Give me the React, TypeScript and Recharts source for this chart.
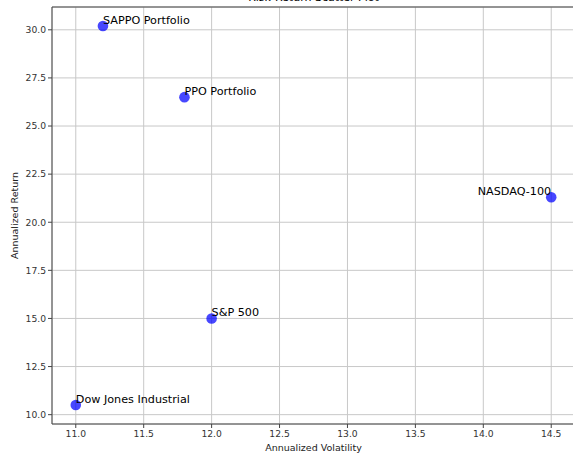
import { ScatterChart, Scatter, XAxis, YAxis, CartesianGrid, Label, ReferenceLine } from "recharts";

const names = ["SAPPO Portfolio", "PPO Portfolio", "NASDAQ-100", "S&P 500", "Dow Jones Industrial"];
const volatility = [11.2, 11.8, 14.5, 12.0, 11.0];
const returns = [30.2, 26.5, 21.3, 15.0, 10.5];
const xTicks = [11.0, 11.5, 12.0, 12.5, 13.0, 13.5, 14.0, 14.5];
const yTicks = [10.0, 12.5, 15.0, 17.5, 20.0, 22.5, 25.0, 27.5, 30.0];

const data = names.map((name, i) => ({ name, x: volatility[i], y: returns[i] }));

const FONT = "DejaVu Sans, sans-serif";
const Y_MAX = 31.185;

const Dot = (props: any) => {
  const { cx, cy, payload } = props;
  const right = payload.name === "NASDAQ-100";
  return (
    <g>
      <circle cx={cx} cy={cy} r={5.3} fill="#0000ff" fillOpacity={0.72} />
      <text
        x={cx}
        y={cy - 2}
        textAnchor={right ? "end" : "start"}
        fontSize={11.2}
        fontFamily={FONT}
        fill="#000"
      >
        {payload.name}
      </text>
    </g>
  );
};

const App = () => {
  return (
    <div style={{ position: "absolute", top: 0, left: 0, width: 573, height: 457, background: "#fff", overflow: "hidden" }}>
      <ScatterChart width={575} height={457} margin={{ top: 7, right: 0, bottom: 0, left: 0 }}>
        <CartesianGrid stroke="#c8c8c8" strokeWidth={1} horizontal vertical />
        <XAxis
          type="number"
          dataKey="x"
          domain={[10.825, 14.675]}
          ticks={xTicks}
          tickFormatter={(v: number) => v.toFixed(1)}
          height={33}
          stroke="#444"
          tickLine={{ stroke: "#444" }}
          tickSize={4}
          tick={{ fontSize: 9.2, fill: "#333", fontFamily: FONT }}
          allowDataOverflow
        >
          <Label
            content={({ viewBox }: any) => (
              <text
                x={viewBox.x + viewBox.width / 2}
                y={451}
                textAnchor="middle"
                fontSize={9.5}
                fontFamily={FONT}
                fill="#222"
              >
                Annualized Volatility
              </text>
            )}
          />
          <Label
            content={({ viewBox }: any) => (
              <text
                x={viewBox.x + viewBox.width / 2}
                y={1}
                textAnchor="middle"
                fontSize={11}
                fontFamily={FONT}
                fill="#000"
              >
                Risk-Return Scatter Plot
              </text>
            )}
          />
        </XAxis>
        <YAxis
          type="number"
          dataKey="y"
          domain={[9.515, Y_MAX]}
          ticks={yTicks}
          tickFormatter={(v: number) => v.toFixed(1)}
          width={52}
          stroke="#444"
          tickLine={{ stroke: "#444" }}
          tickSize={4}
          tick={{ fontSize: 9.2, fill: "#333", fontFamily: FONT }}
          allowDataOverflow
        >
          <Label
            content={({ viewBox }: any) => (
              <text
                x={18}
                y={viewBox.y + viewBox.height / 2}
                transform={`rotate(-90 18 ${viewBox.y + viewBox.height / 2})`}
                textAnchor="middle"
                fontSize={9.5}
                fontFamily={FONT}
                fill="#222"
              >
                Annualized Return
              </text>
            )}
          />
        </YAxis>
        <ReferenceLine y={Y_MAX} stroke="#444" strokeWidth={1} />
        <Scatter data={data} shape={<Dot />} isAnimationActive={false} />
      </ScatterChart>
    </div>
  );
};

export default App;
